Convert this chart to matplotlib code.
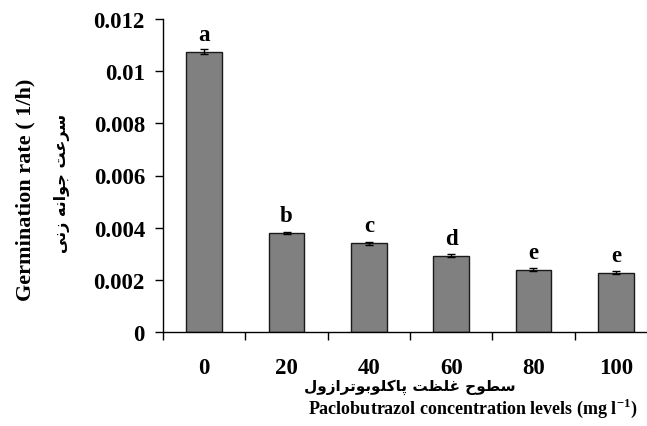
import matplotlib
matplotlib.use("Agg")
import matplotlib.pyplot as plt
import numpy as np

# ---- data ----
categories = ["0", "20", "40", "60", "80", "100"]
rates = [0.01075, 0.00380, 0.00340, 0.00293, 0.00239, 0.00227]
errors = [0.00011, 0.00003, 0.00006, 0.00005, 0.00006, 0.00006]
letters = ["a", "b", "c", "d", "e", "e"]
yticks = [0, 0.002, 0.004, 0.006, 0.008, 0.01, 0.012]
ytick_labels = ["0", "0.002", "0.004", "0.006", "0.008", "0.01", "0.012"]
ylabel_en = "Germination rate ( 1/h)"
ylabel_fa = "سرعت جوانه زنی"
xlabel_fa = "سطوح غلظت پاکلوبوترازول"
xlabel_en = r"Paclobutrazol concentration levels (mg l$^{\mathbf{-1}}$)"

# ---- minimal Persian shaping (presentation forms) for display ----
FORMS = {  # iso, fin, ini, med  (None => does not join to the left)
    "س": ("\uFEB1", "\uFEB2", "\uFEB3", "\uFEB4"),
    "ر": ("\uFEAD", "\uFEAE", None, None),
    "ع": ("\uFEC9", "\uFECA", "\uFECB", "\uFECC"),
    "ت": ("\uFE95", "\uFE96", "\uFE97", "\uFE98"),
    "ج": ("\uFE9D", "\uFE9E", "\uFE9F", "\uFEA0"),
    "و": ("\uFEED", "\uFEEE", None, None),
    "ا": ("\uFE8D", "\uFE8E", None, None),
    "ن": ("\uFEE5", "\uFEE6", "\uFEE7", "\uFEE8"),
    "ه": ("\uFEE9", "\uFEEA", "\uFEEB", "\uFEEC"),
    "ز": ("\uFEAF", "\uFEB0", None, None),
    "ی": ("\uFBFC", "\uFEF0", "\uFBFE", "\uFBFF"),
    "ط": ("\uFEC1", "\uFEC2", "\uFEC3", "\uFEC4"),
    "ح": ("\uFEA1", "\uFEA2", "\uFEA3", "\uFEA4"),
    "غ": ("\uFECD", "\uFECE", "\uFECF", "\uFED0"),
    "ل": ("\uFEDD", "\uFEDE", "\uFEDF", "\uFEE0"),
    "ظ": ("\uFEC5", "\uFEC6", "\uFEC7", "\uFEC8"),
    "پ": ("\uFB56", "\uFB57", "\uFB58", "\uFB59"),
    "ک": ("\uFB8E", "\uFB8F", "\uFB90", "\uFB91"),
    "ب": ("\uFE8F", "\uFE90", "\uFE91", "\uFE92"),
}


def shape(text):
    out = []
    n = len(text)
    for i, ch in enumerate(text):
        if ch not in FORMS:
            out.append(ch)
            continue
        prev = text[i - 1] if i > 0 else None
        nxt = text[i + 1] if i < n - 1 else None
        jp = prev in FORMS and FORMS[prev][2] is not None
        jn = FORMS[ch][2] is not None and nxt in FORMS
        iso, fin, ini, med = FORMS[ch]
        if jp and jn:
            out.append(med)
        elif jp:
            out.append(fin)
        elif jn:
            out.append(ini)
        else:
            out.append(iso)
    return "".join(out)[::-1]


plt.rcParams["font.family"] = ["Liberation Serif", "DejaVu Serif"]
plt.rcParams["font.weight"] = "bold"
plt.rcParams["mathtext.fontset"] = "custom"
plt.rcParams["mathtext.rm"] = "Liberation Serif:bold"
plt.rcParams["mathtext.bf"] = "Liberation Serif:bold"

W, H = 647, 427
fig = plt.figure(figsize=(W / 100, H / 100), dpi=100)
ax = fig.add_axes([163 / W, (H - 333) / H, (657 - 163) / W, (333 - 20) / H])

x = np.arange(len(categories))
ax.bar(x, rates, width=0.43, color="#808080", edgecolor="#1a1a1a", linewidth=1.0, zorder=2)
ax.errorbar(x, rates, yerr=errors, fmt="none", ecolor="black", elinewidth=1.0,
            capsize=3, capthick=1.0, zorder=3)
for xi, v, lab in zip(x, rates, letters):
    ax.annotate(lab, (xi, v), xytext=(0, 8.6), textcoords="offset points",
                ha="center", va="baseline", fontsize=16.5, fontweight="bold")

ax.set_xlim(-0.5, len(categories) - 0.5)
ax.set_ylim(0, 0.012)
ax.set_yticks(yticks)
ax.set_yticklabels(ytick_labels)
ax.set_xticks(np.arange(len(categories) + 1) - 0.5)
ax.set_xticklabels([])
ax.set_xticks(x, minor=True)
ax.set_xticklabels(categories, minor=True)
ax.tick_params(axis="x", which="major", direction="out", length=6, width=1)
ax.tick_params(axis="x", which="minor", length=0, pad=18, labelsize=16.5)
ax.tick_params(axis="y", direction="out", length=6, width=1, pad=7, labelsize=16.5)
for lab in ax.get_xticklabels(minor=True) + ax.get_yticklabels():
    lab.set_fontweight("bold")

for s in ["top", "right"]:
    ax.spines[s].set_visible(False)
for s in ["left", "bottom"]:
    ax.spines[s].set_linewidth(1.0)
    ax.spines[s].set_color("black")


def fx(px):
    return px / W


def fy(py):
    return 1 - py / H


fig.text(fx(25), fy(190), ylabel_en, rotation=90, ha="center", va="center",
         fontsize=16, fontweight="bold")
fig.text(fx(62), fy(183), shape(ylabel_fa), rotation=90, ha="center", va="center",
         fontsize=11.5, fontweight="bold", family=["DejaVu Sans"])
fig.text(fx(410), fy(387), shape(xlabel_fa), ha="center", va="center",
         fontsize=11, fontweight="bold", family=["DejaVu Sans"])
fig.text(fx(473), fy(408), xlabel_en, ha="center", va="center",
         fontsize=13, fontweight="bold")

fig.savefig("out.png", dpi=100)
